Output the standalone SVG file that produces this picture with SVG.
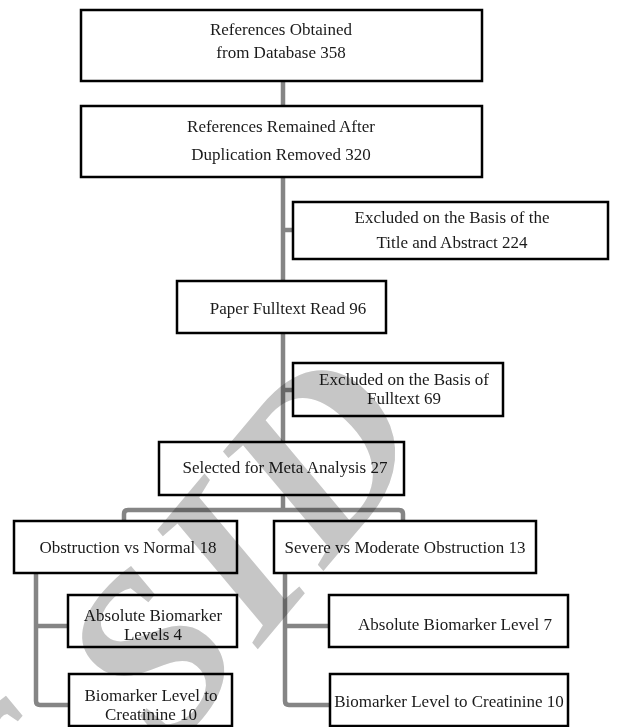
<svg xmlns="http://www.w3.org/2000/svg" width="618" height="727" viewBox="0 0 618 727">
<style>
.box{fill:#ffffff;stroke:#000000;stroke-width:2.5}
.t{font-family:"Liberation Serif",serif;font-size:17px;fill:#1a1a1a;text-anchor:middle}
.c{fill:none;stroke:#858585;stroke-width:4.5;stroke-linejoin:round}
.wm{font-family:"Liberation Serif",serif;font-style:italic;font-weight:bold;font-size:235px;letter-spacing:10px;fill:#c6c6c6;mix-blend-mode:multiply}
</style>
<rect x="0" y="0" width="618" height="727" fill="#ffffff"/>
<g id="connectors">
<path class="c" d="M283,81 V442"/>
<path class="c" d="M283,230 H293"/>
<path class="c" d="M283,390 H293"/>
<path class="c" d="M283,495 V510"/>
<path class="c" d="M124,521 V514 Q124,510 128,510 H399 Q403,510 403,514 V521"/>
<path class="c" d="M36,573 V701 Q36,705 40,705 H69"/>
<path class="c" d="M36,626 H68"/>
<path class="c" d="M285,573 V701 Q285,705 289,705 H330"/>
<path class="c" d="M285,626 H329"/>
</g>
<g id="n1"><rect class="box" x="81" y="10" width="401" height="71"/>
<text class="t" x="281" y="35">References Obtained</text>
<text class="t" x="281" y="58">from Database 358</text></g>
<g id="n2"><rect class="box" x="81" y="106" width="401" height="71"/>
<text class="t" x="281" y="132">References Remained After</text>
<text class="t" x="281" y="160">Duplication Removed 320</text></g>
<g id="n3"><rect class="box" x="293" y="202" width="315" height="57"/>
<text class="t" x="452" y="223">Excluded on the Basis of the</text>
<text class="t" x="452" y="248">Title and Abstract 224</text></g>
<g id="n4"><rect class="box" x="177" y="281" width="209" height="52"/>
<text class="t" x="288" y="314">Paper Fulltext Read 96</text></g>
<g id="n5"><rect class="box" x="293" y="363" width="210" height="53"/>
<text class="t" x="404" y="385">Excluded on the Basis of</text>
<text class="t" x="404" y="404">Fulltext 69</text></g>
<g id="n6"><rect class="box" x="159" y="442" width="245" height="53"/>
<text class="t" x="285" y="473">Selected for Meta Analysis 27</text></g>
<g id="n7"><rect class="box" x="14" y="521" width="223" height="52"/>
<text class="t" x="128" y="553">Obstruction vs Normal 18</text></g>
<g id="n8"><rect class="box" x="274" y="521" width="262" height="52"/>
<text class="t" x="405" y="553">Severe vs Moderate Obstruction 13</text></g>
<g id="n9"><rect class="box" x="68" y="595" width="169" height="52"/>
<text class="t" x="153" y="621">Absolute Biomarker</text>
<text class="t" x="153" y="640">Levels 4</text></g>
<g id="n10"><rect class="box" x="69" y="674" width="163" height="52"/>
<text class="t" x="151" y="701">Biomarker Level to</text>
<text class="t" x="151" y="720">Creatinine 10</text></g>
<g id="n11"><rect class="box" x="329" y="595" width="239" height="52"/>
<text class="t" x="455" y="630">Absolute Biomarker Level 7</text></g>
<g id="n12"><rect class="box" x="330" y="674" width="238" height="52"/>
<text class="t" x="449" y="707">Biomarker Level to Creatinine 10</text></g>
<text class="wm" x="0" y="0" text-anchor="end" transform="translate(440,432) rotate(-50)">of SID</text>
</svg>
